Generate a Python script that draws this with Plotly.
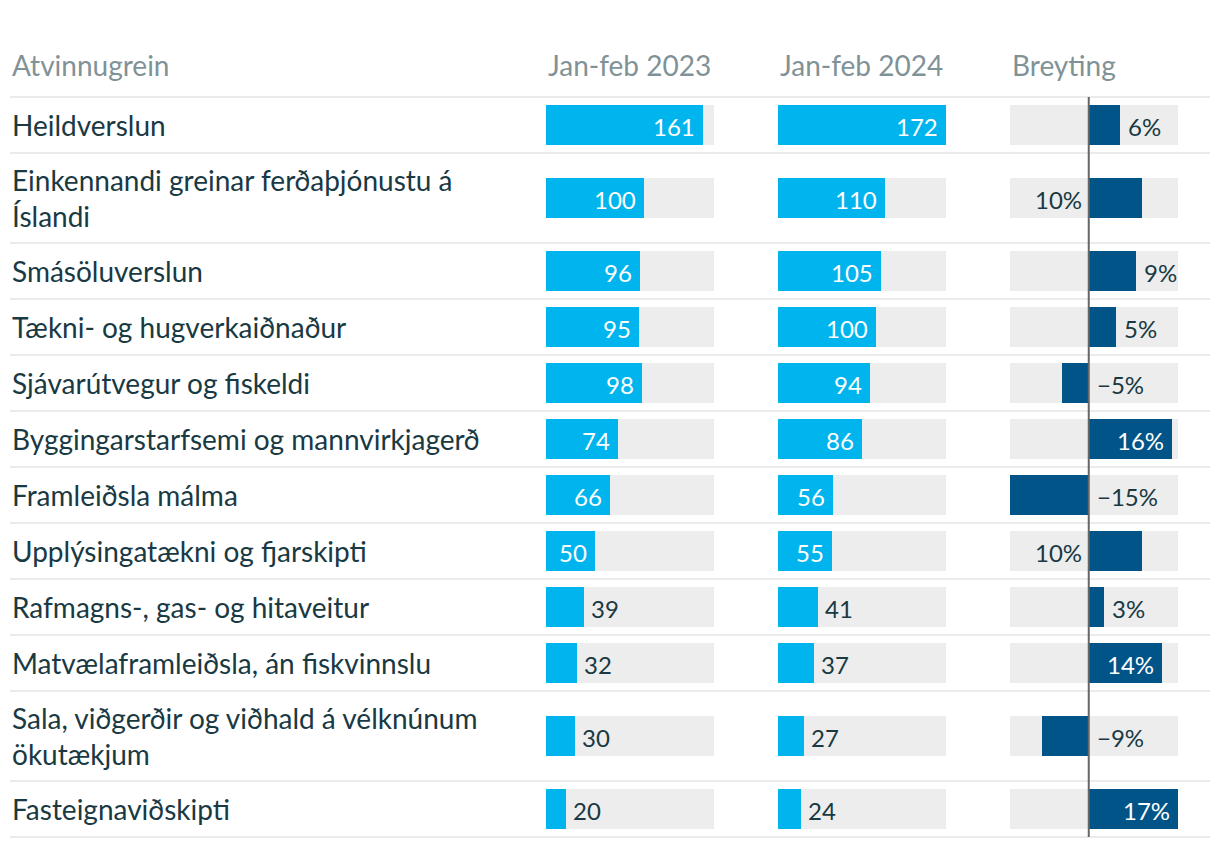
import plotly.graph_objects as go

# ---------------- data ----------------
categories = [
    "Heildverslun",
    "Einkennandi greinar ferðaþjónustu á<br>Íslandi",
    "Smásöluverslun",
    "Tækni- og hugverkaiðnaður",
    "Sjávarútvegur og fiskeldi",
    "Byggingarstarfsemi og mannvirkjagerð",
    "Framleiðsla málma",
    "Upplýsingatækni og fjarskipti",
    "Rafmagns-, gas- og hitaveitur",
    "Matvælaframleiðsla, án fiskvinnslu",
    "Sala, viðgerðir og viðhald á vélknúnum<br>ökutækjum",
    "Fasteignaviðskipti",
]
values_2023 = [161, 100, 96, 95, 98, 74, 66, 50, 39, 32, 30, 20]
values_2024 = [172, 110, 105, 100, 94, 86, 56, 55, 41, 37, 27, 24]
change_pct = [5.9, 10.1, 9.0, 5.1, -5.1, 15.8, -15.0, 10.1, 2.9, 13.9, -8.9, 17.0]
headers = ["Atvinnugrein", "Jan-feb 2023", "Jan-feb 2024", "Breyting"]

# ---------------- style ----------------
W, H = 1220, 848
FONT = "Lato"
TXT = "#193943"
HDR = "#7f9297"
CYAN = "#00b5ee"
DARK = "#015487"
BG = "#ededed"
SEP = "#ebebeb"
LABEL_SIZE = 28
NUM_SIZE = 24

table_left, table_right = 10, 1210
header_y = 65
table_top = 97
single_h, double_h = 56, 90
bar_h = 40
col_px = [(546, 714), (778, 946), (1010, 1178)]

# row geometry computed from label line counts
row_heights = [double_h if "<br>" in c else single_h for c in categories]
bounds = [table_top]
for h in row_heights:
    bounds.append(bounds[-1] + h)
centers = [(bounds[i] + bounds[i + 1]) / 2 for i in range(len(categories))]

vmax = max(max(values_2023), max(values_2024))
cmin, cmax = min(change_pct), max(change_pct)


def text_w(s):
    w = 0
    for ch in s:
        if ch.isdigit():
            w += 0.58 * NUM_SIZE
        elif ch == "%":
            w += 0.85 * NUM_SIZE
        else:
            w += 0.55 * NUM_SIZE
    return w


fig = go.Figure()
annotations = []
shapes = []

# value columns
for ci, (vals, xa) in enumerate([(values_2023, "x"), (values_2024, "x2")]):
    x0, x1 = col_px[ci]
    scale = (x1 - x0) / vmax
    fig.add_trace(go.Bar(x=[vmax] * len(vals), y=centers, orientation="h",
                         width=bar_h, marker=dict(color=BG, line=dict(width=0)),
                         xaxis=xa, yaxis="y", hoverinfo="skip", showlegend=False))
    fig.add_trace(go.Bar(x=vals, y=centers, orientation="h",
                         width=bar_h, marker=dict(color=CYAN, line=dict(width=0)),
                         xaxis=xa, yaxis="y", hoverinfo="skip", showlegend=False))
    for v, yc in zip(vals, centers):
        s = str(v)
        inside = v * scale >= text_w(s) + 16
        annotations.append(dict(
            x=v, y=yc, xref=xa, yref="y", text=s, showarrow=False,
            xanchor="right" if inside else "left",
            xshift=-6 if inside else 5, yshift=-1, yanchor="middle",
            font=dict(family=FONT, size=NUM_SIZE, color="white" if inside else TXT)))

# change column
x0, x1 = col_px[2]
cscale = (x1 - x0) / (cmax - cmin)
fig.add_trace(go.Bar(x=[cmax - cmin] * len(change_pct), base=cmin, y=centers,
                     orientation="h", width=bar_h,
                     marker=dict(color=BG, line=dict(width=0)),
                     xaxis="x3", yaxis="y", hoverinfo="skip", showlegend=False))
fig.add_trace(go.Bar(x=change_pct, y=centers, orientation="h", width=bar_h,
                     marker=dict(color=DARK, line=dict(width=0)),
                     xaxis="x3", yaxis="y", hoverinfo="skip", showlegend=False))
for v, yc in zip(change_pct, centers):
    r = round(v)
    s = ("\u2212" if r < 0 else "") + f"{abs(r)}%"
    tw = text_w(s)
    if v < 0:
        ax, anchor, shift, col = 0, "left", 6, TXT
    elif v * cscale >= tw + 16:
        ax, anchor, shift, col = v, "right", -6, "white"
    elif (cmax - v) * cscale >= tw + 6:
        ax, anchor, shift, col = v, "left", 6, TXT
    else:
        ax, anchor, shift, col = 0, "right", -5, TXT
    annotations.append(dict(
        x=ax, y=yc, xref="x3", yref="y", text=s, showarrow=False,
        xanchor=anchor, xshift=shift, yshift=-1, yanchor="middle",
        font=dict(family=FONT, size=NUM_SIZE, color=col)))

# row labels
for c, yc in zip(categories, centers):
    annotations.append(dict(
        x=table_left / W, y=yc, xref="paper", yref="y", text=c, showarrow=False,
        xanchor="left", yanchor="middle", align="left",
        font=dict(family=FONT, size=LABEL_SIZE, color=TXT)))

# headers
header_x = [table_left, col_px[0][0], col_px[1][0], col_px[2][0]]
for hx, htxt in zip(header_x, headers):
    annotations.append(dict(
        x=hx / W, y=header_y, xref="paper", yref="y", text=htxt, showarrow=False,
        xanchor="left", yanchor="middle",
        font=dict(family=FONT, size=LABEL_SIZE, color=HDR)))

# separators
for b in bounds:
    shapes.append(dict(type="line", xref="paper", yref="y",
                       x0=table_left / W, x1=table_right / W, y0=b, y1=b,
                       line=dict(color=SEP, width=2), layer="below"))
# zero line
shapes.append(dict(type="line", xref="x3", yref="y", x0=0, x1=0,
                   y0=bounds[0], y1=bounds[-1], line=dict(color="#666666", width=2)))

axis_common = dict(showgrid=False, zeroline=False, showticklabels=False,
                   showline=False, ticks="", fixedrange=True, anchor="y")
fig.update_layout(
    width=W, height=H, margin=dict(l=0, r=0, t=0, b=0),
    paper_bgcolor="white", plot_bgcolor="white",
    barmode="overlay", bargap=0, showlegend=False, hovermode=False,
    xaxis=dict(domain=[col_px[0][0] / W, col_px[0][1] / W], range=[0, vmax], **axis_common),
    xaxis2=dict(domain=[col_px[1][0] / W, col_px[1][1] / W], range=[0, vmax], **axis_common),
    xaxis3=dict(domain=[col_px[2][0] / W, col_px[2][1] / W], range=[cmin, cmax], **axis_common),
    yaxis=dict(range=[H, 0], domain=[0, 1], showgrid=False, zeroline=False,
               showticklabels=False, showline=False, ticks="", fixedrange=True),
    annotations=annotations, shapes=shapes,
    font=dict(family=FONT, color=TXT),
)

fig.write_html("out.html", config={"displayModeBar": False, "staticPlot": True},
               post_script="document.body.style.margin='0';document.body.style.overflow='hidden';")
